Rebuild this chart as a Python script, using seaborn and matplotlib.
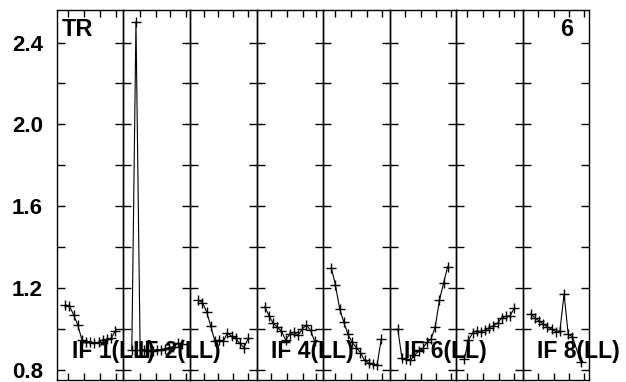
import numpy as np
import pandas as pd
from matplotlib import pyplot as plt
import seaborn as sns

# Canais de cada painel
canais = list(range(2, 15))
canais_if8 = [2, 3, 4, 5, 6, 7, 8, 9, 10, 11, 12, 14]

if1 = [1.118, 1.112, 1.07, 1.02, 0.947, 0.936, 0.936, 0.933, 0.935, 0.947, 0.95, 0.955, 0.99]
if2 = [0.90, 2.50, 0.90, 0.90, 0.895, 0.895, 0.90, 0.90, 0.905, 0.91, 0.915, 0.93, 0.925]
if3 = [1.14, 1.13, 1.085, 1.015, 0.94, 0.947, 0.94, 0.982, 0.965, 0.955, 0.93, 0.91, 0.955]
if4 = [1.11, 1.065, 1.03, 1.01, 0.99, 0.947, 0.975, 0.985, 0.97, 1.0, 1.02, 0.995, 0.94]
if5 = [1.30, 1.215, 1.10, 1.035, 0.975, 0.935, 0.91, 0.885, 0.848, 0.835, 0.832, 0.823, 0.95]
if6 = [1.0, 0.857, 0.852, 0.848, 0.872, 0.893, 0.906, 0.935, 0.952, 1.01, 1.14, 1.224, 1.306]
if7 = [0.853, 0.945, 0.982, 0.992, 0.988, 0.995, 1.008, 1.016, 1.03, 1.055, 1.063, 1.065, 1.102]
if8 = [1.075, 1.055, 1.04, 1.025, 1.012, 1.0, 0.988, 0.992, 1.172, 0.975, 0.963, 0.841]

series = [if1, if2, if3, if4, if5, if6, if7, if8]
canais_painel = [canais] * 7 + [canais_if8]

# Rótulos dos painéis
rotulos = ['IF 1(LL)', 'IF 2(LL)', '', 'IF 4(LL)', '', 'IF 6(LL)', '', 'IF 8(LL)']

# Ticks do eixo x de cada painel
ticks_x = [[2.6, 6.5, 10.35, 14.3], [4.0, 7.7, 11.3, 15.1], [3.4, 6.8, 10.4, 14.0],
           [3.5, 7.3, 11.1, 14.4], [2.8, 6.7, 10.5, 14.2], [3.7, 7.5, 11.1, 14.9],
           [2.7, 6.6, 10.35, 14.0], [3.75, 7.5, 11.1, 14.9]]
ticks_y = [0.8, 1.0, 1.2, 1.4, 1.6, 1.8, 2.0, 2.2, 2.4]
rotulos_y = ['0.8', '', '1.2', '', '1.6', '', '2.0', '', '2.4']

# Monta o data frame long
dados = pd.concat([pd.DataFrame({'painel': i, 'canal': c, 'valor': v})
                   for i, (c, v) in enumerate(zip(canais_painel, series))])

# Tema
sns.set_theme(style='ticks')
plt.rcParams['font.family'] = ['Liberation Sans', 'DejaVu Sans']
plt.rcParams['font.weight'] = 'bold'
plt.rcParams['text.color'] = 'black'
plt.rcParams['xtick.color'] = 'black'
plt.rcParams['ytick.color'] = 'black'
plt.rcParams['axes.edgecolor'] = 'black'
plt.rcParams['axes.linewidth'] = 1.0

fig, axes = plt.subplots(1, 8, sharey=True, figsize=(6.26, 3.82), dpi=100)
fig.subplots_adjust(left=57/626, right=589/626, bottom=1-379.5/382, top=1-10/382, wspace=0)

for i, ax in enumerate(axes):
    sns.lineplot(data=dados[dados.painel == i], x='canal', y='valor', color='black',
                 marker='+', markersize=7, markeredgewidth=1, markeredgecolor='black',
                 linewidth=0.8, ax=ax)
    ax.patch.set_visible(False)
    ax.set(xlim=(0, 16), ylim=(0.754, 2.559), xlabel='', ylabel='')
    ax.set_xticks(ticks_x[i])
    ax.set_xticklabels([])
    ax.set_yticks(ticks_y)
    ax.set_yticklabels(rotulos_y)
    ax.tick_params(axis='y', direction='in', left=True, right=True, length=6, width=1,
                   labelsize=16, pad=10, colors='black')
    ax.tick_params(axis='x', direction='in', top=True, bottom=True, length=5, width=1)
    if i > 0:
        ax.tick_params(axis='y', labelleft=False)
    if rotulos[i]:
        ax.text(3.6, 0.857, rotulos[i], fontsize=16.5, fontweight='bold',
                va='baseline', ha='left', color='black')

axes[0].text(0.075, 0.929, 'TR', transform=axes[0].transAxes, fontsize=17,
             fontweight='bold', va='baseline', ha='left', color='black')
axes[-1].text(0.767, 0.929, '6', transform=axes[-1].transAxes, fontsize=17,
              fontweight='bold', va='baseline', ha='right', color='black')

plt.savefig('out.png', dpi=100)
plt.close()
